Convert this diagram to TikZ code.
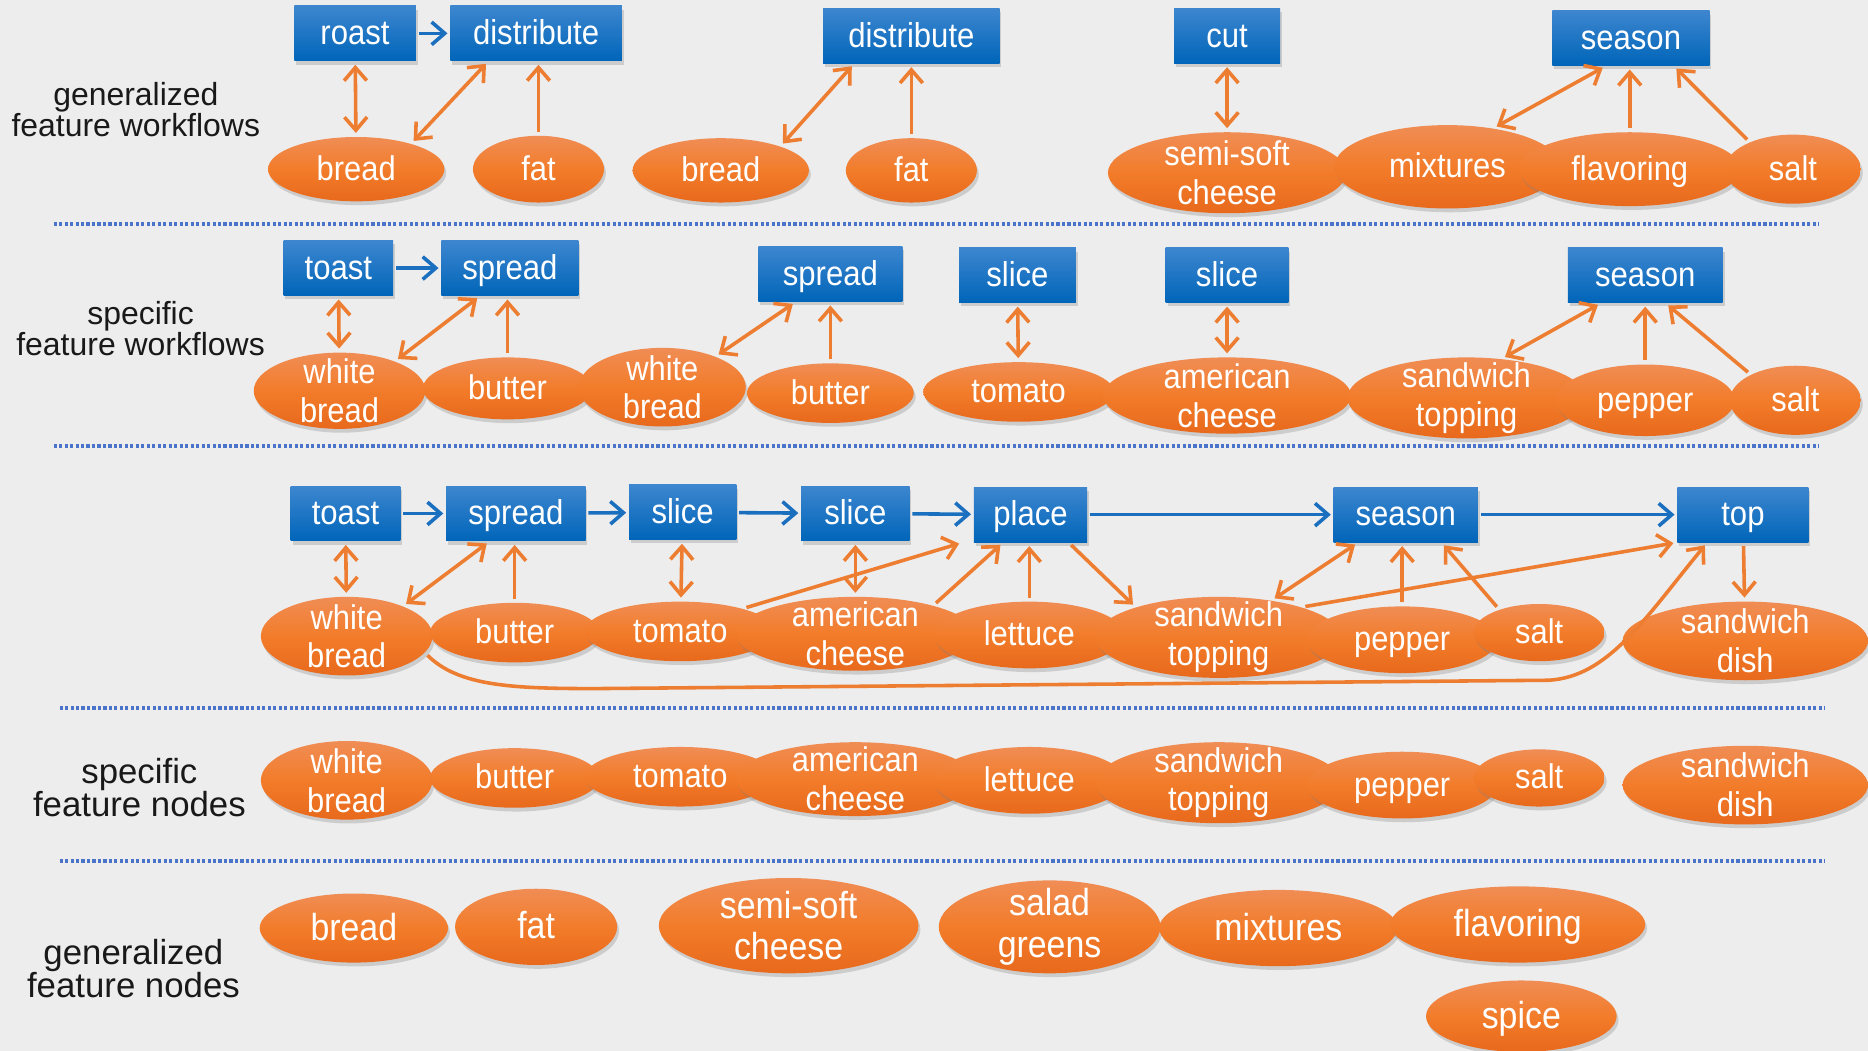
\documentclass[tikz,border=0pt]{standalone}
\usepackage{fontspec}
\setmainfont{Liberation Sans}
\newfontfamily\boxfont[FakeStretch=0.9]{Liberation Sans}
\newfontfamily\ovalfont[FakeStretch=0.9]{Liberation Sans}
\usetikzlibrary{shapes.geometric,arrows.meta,shadows,calc}

\definecolor{bg}{HTML}{EDEDED}
\definecolor{oarrow}{HTML}{ED7D31}
\definecolor{otop}{HTML}{F08D55}
\definecolor{omid}{HTML}{F27C2A}
\definecolor{obot}{HTML}{E8691C}
\definecolor{btop}{HTML}{3D86CF}
\definecolor{bbot}{HTML}{0065B9}
\definecolor{barrow}{HTML}{1A6FBF}
\definecolor{sepblue}{HTML}{4A74C9}

\tikzset{
  >={Straight Barb[length=5.5pt,width=9.5pt]},
  softshadow/.style={drop shadow={shadow xshift=0.8pt,shadow yshift=-1.6pt,opacity=0.3}},
  bbox/.style={rectangle, inner sep=0pt, minimum height=23pt, minimum width=#1pt,
    top color=btop, bottom color=bbot, text=white, softshadow,
    text height=12.1pt, text depth=2.6pt,
    font=\boxfont\fontsize{14.5}{16}\selectfont},
  oval/.style 2 args={ellipse, inner sep=-45pt, minimum width=#1pt, minimum height=#2pt,
    top color=otop, bottom color=obot, middle color=omid, text=white, softshadow,
    text height=12.1pt, text depth=2.9pt,
    align=center, font=\ovalfont\fontsize{14.4}{16.3}\selectfont},
  big/.style={font=\ovalfont\fontsize{15.8}{17.5}\selectfont,
    text height=13.3pt, text depth=3.2pt},
  two/.style={text height={}, text depth={}},
  lab/.style={align=center, text=black!90, font=\fontsize{13.4}{13}\selectfont},
  labbig/.style={align=center, text=black!90, font=\fontsize{14.6}{14}\selectfont},
  oarr/.style={draw=oarrow, line width=1.5pt, shorten <=1.5pt, shorten >=1.5pt},
  barr/.style={draw=barrow, line width=1.5pt, ->, shorten <=1pt, shorten >=1pt},
  sep/.style={draw=sepblue, line width=1.7pt, dash pattern=on 1.3pt off 1pt},
}

\begin{document}
\begin{tikzpicture}[x=0.5pt,y=-0.5pt]
% canvas
\fill[bg] (0,0) rectangle (1568,882);
\useasboundingbox (0,0) rectangle (1568,882);

% row captions
\node[lab] (lab1) at (114,92) {generalized\\feature workflows};
\node[lab] (lab2) at (118,276) {specific\\feature workflows};
\node[labbig] (lab4) at (117,661) {specific\\feature nodes};
\node[labbig] (lab5) at (112,813) {generalized\\feature nodes};

% separators
\draw[sep] (45,188) -- (1527,188);
\draw[sep] (45,374) -- (1527,374);
\draw[sep] (50,594) -- (1532,594);
\draw[sep] (50,723) -- (1532,723);

% ---------- generalized feature workflows ----------
\node[bbox=51] (roast) at (298,28) {roast};
\node[bbox=72] (dist1) at (450,28) {distribute};
\node[bbox=74] (dist2) at (765,30) {distribute};
\node[bbox=44.5] (cut) at (1030,30) {cut};
\node[bbox=66] (seas1) at (1369,32) {season};

\node[oval={74}{27}] (bread1) at (299,142) {bread};
\node[oval={55}{28}] (fat1) at (452,142) {fat};
\node[oval={74}{27}] (bread2) at (605,143) {bread};
\node[oval={55}{27}] (fat2) at (765,143) {fat};
\node[oval={100}{34},two] (ssc1) at (1030,145) {semi-soft\\cheese};
\node[oval={95}{35}] (mix1) at (1215,140) {mixtures};
\node[oval={93}{31}] (flav1) at (1368,142) {flavoring};
\node[oval={57}{29}] (salt1) at (1505,142) {salt};

\draw[barr] (roast) -- (dist1);
\draw[oarr,<->] (roast) -- (bread1);
\draw[oarr,<->] ($(dist1.south)+(-40,0)$) -- (bread1.25);
\draw[oarr,->] (fat1.north) -- (fat1.north |- dist1.south);
\draw[oarr,<->] ($(dist2.south)+(-48,0)$) -- (bread2.22);
\draw[oarr,->] (fat2) -- (dist2);
\draw[oarr,<->] (cut) -- (ssc1);
\draw[oarr,<->] ($(seas1.south)+(-21,0)$) -- (mix1.40);
\draw[oarr,->] (flav1.north) -- (flav1.north |- seas1.south);
\draw[oarr,->] (salt1.148) -- ($(seas1.south)+(36,0)$);

% ---------- specific feature workflows ----------
\node[bbox=46] (toast2) at (284,225) {toast};
\node[bbox=57.5] (spr2a) at (428,225) {spread};
\node[bbox=60.5] (spr2b) at (697,230) {spread};
\node[bbox=49] (slc2a) at (854,231) {slice};
\node[bbox=51.5] (slc2b) at (1030,231) {slice};
\node[bbox=65] (seas2) at (1381,231) {season};

\node[oval={72}{32},two] (wb2a) at (285,328) {white\\bread};
\node[oval={71}{26}] (but2a) at (426,326) {butter};
\node[oval={70}{33},two] (wb2b) at (556,325) {white\\bread};
\node[oval={70}{25}] (but2b) at (697,330) {butter};
\node[oval={80}{25}] (tom2) at (855,329) {tomato};
\node[oval={104}{32},two] (amc2) at (1030,332) {american\\cheese};
\node[oval={100}{34},two] (st2) at (1231,334) {sandwich\\topping};
\node[oval={75}{30}] (pep2) at (1381,336) {pepper};
\node[oval={55}{29}] (salt2) at (1507,336) {salt};

\draw[barr] (toast2) -- (spr2a);
\draw[oarr,<->] (toast2) -- (wb2a);
\draw[oarr,<->] ($(spr2a.south)+(-25,0)$) -- (wb2a.28);
\draw[oarr,->] (but2a.north) -- (but2a.north |- spr2a.south);
\draw[oarr,<->] ($(spr2b.south)+(-29,0)$) -- (wb2b.30);
\draw[oarr,->] (but2b) -- (spr2b);
\draw[oarr,<->] (slc2a) -- (tom2);
\draw[oarr,<->] (slc2b) -- (amc2);
\draw[oarr,<->] ($(seas2.south)+(-37,0)$) -- (st2.48);
\draw[oarr,->] (pep2) -- (seas2);
\draw[oarr,->] (salt2.150) -- ($(seas2.south)+(17,0)$);

% ---------- combined workflow ----------
\node[bbox=46] (toast3) at (290,431) {toast};
\node[bbox=58.5] (spr3) at (433,431) {spread};
\node[bbox=45] (slc3a) at (573,430) {slice};
\node[bbox=45.5] (slc3b) at (718,431) {slice};
\node[bbox=47.5] (place) at (865,432) {place};
\node[bbox=60.5] (seas3) at (1180,432) {season};
\node[bbox=55] (top) at (1463,432) {top};

\node[oval={72}{33},two] (wb3) at (291,534) {white\\bread};
\node[oval={71}{25}] (but3) at (432,531) {butter};
\node[oval={80}{25}] (tom3) at (571,530) {tomato};
\node[oval={100}{31},two] (amc3) at (718,532) {american\\cheese};
\node[oval={80}{28}] (let3) at (864,533) {lettuce};
\node[oval={103}{34},two] (st3) at (1023,535) {sandwich\\topping};
\node[oval={80}{28}] (pep3) at (1177,537) {pepper};
\node[oval={55}{24}] (salt3) at (1292,531) {salt};
\node[oval={103}{33},two] (sd3) at (1465,538) {sandwich\\dish};

\draw[barr] (toast3) -- (spr3);
\draw[barr] (spr3) -- (slc3a);
\draw[barr] (slc3a) -- (slc3b);
\draw[barr] (slc3b) -- (place);
\draw[barr] (place) -- (seas3);
\draw[barr] (seas3) -- (top);

\draw[oarr,<->] (toast3) -- (wb3);
\draw[oarr,<->] ($(spr3.south)+(-22,0)$) -- (wb3.28);
\draw[oarr,->] (but3.north) -- (but3.north |- spr3.south);
\draw[oarr,<->] (slc3a) -- (tom3);
\draw[oarr,<->] (slc3b) -- (amc3);
\draw[oarr,->] (tom3.20) -- ($(place.south)+(-57,0)$);
\draw[oarr,->] (amc3.20) -- ($(place.south)+(-23,0)$);
\draw[oarr,->] (let3.north) -- (let3.north |- place.south);
\draw[oarr,->] ($(place.south)+(32,0)$) -- (st3.160);
\draw[oarr,<->] ($(seas3.south)+(-40,0)$) -- (st3.35);
\draw[oarr,->] (pep3.north) -- (pep3.north |- seas3.south);
\draw[oarr,->] (salt3.150) -- ($(seas3.south)+(30,0)$);
\draw[oarr,->] (st3.20) -- (top.south west);
\draw[oarr,->] (wb3.-12) .. controls (385,576) and (430,578) .. (500,578)
  -- (1300,571) .. controls (1350,568) and (1380,520) .. ($(top.south)+(-30,0)$);
\draw[oarr,->] (top) -- (sd3);

% ---------- specific feature nodes ----------
\node[oval={72}{33},two] (wb4) at (291,655) {white\\bread};
\node[oval={71}{25}] (but4) at (432,653) {butter};
\node[oval={80}{25}] (tom4) at (571,652) {tomato};
\node[oval={100}{31},two] (amc4) at (718,654) {american\\cheese};
\node[oval={80}{28}] (let4) at (864,655) {lettuce};
\node[oval={103}{34},two] (st4) at (1023,657) {sandwich\\topping};
\node[oval={80}{28}] (pep4) at (1177,659) {pepper};
\node[oval={55}{24}] (salt4) at (1292,653) {salt};
\node[oval={103}{33},two] (sd4) at (1465,659) {sandwich\\dish};

% ---------- generalized feature nodes ----------
\node[oval={79}{29},big] (bread5) at (297,779) {bread};
\node[oval={68}{32},big] (fat5) at (450,778) {fat};
\node[oval={109}{40},big,two] (ssc5) at (662,777) {semi-soft\\cheese};
\node[oval={93}{39},big,two] (salad5) at (881,778) {salad\\greens};
\node[oval={100}{32},big] (mix5) at (1073,779) {mixtures};
\node[oval={107}{32},big] (flav5) at (1274,776) {flavoring};
\node[oval={80}{30},big] (spice5) at (1277,853) {spice};
\end{tikzpicture}
\end{document}
